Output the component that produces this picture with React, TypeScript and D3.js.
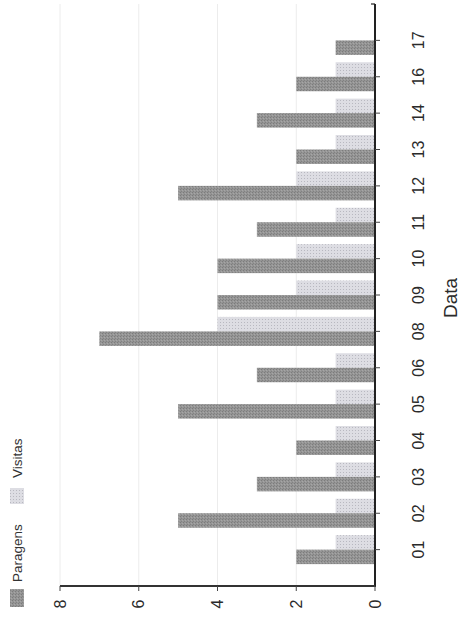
import React from "react";
import * as d3 from "d3";

const categories = ["01", "02", "03", "04", "05", "06", "08", "09", "10", "11", "12", "13", "14", "16", "17"];
const paragens = [2, 5, 3, 2, 5, 3, 7, 4, 4, 3, 5, 2, 3, 2, 1];
const visitas = [1, 1, 1, 1, 1, 1, 4, 2, 2, 1, 2, 1, 1, 1, 0];
const valueTicks = [0, 2, 4, 6, 8];
const seriesNames = ["Paragens", "Visitas"];

const W = 459;
const H = 618;
const FONT = "Liberation Sans, Arial, sans-serif";

export default function App() {
  const x = d3.scaleLinear().domain([0, 8]).range([375, 60]);
  const y = d3.scalePoint<string>().domain(categories).range([586, 4]).padding(1);
  const barH = 14.5;
  const axisY = 586;
  const axisX = 375;

  return (
    <svg
      width={W}
      height={H}
      style={{ position: "absolute", left: 0, top: 0, background: "#fff" }}
      fontFamily={FONT}
    >
      <defs>
        <pattern id="pPar" width="3" height="3" patternUnits="userSpaceOnUse">
          <rect width="3" height="3" fill="#959595" />
          <rect x="0" y="0" width="1" height="1" fill="#7c7c7c" />
          <rect x="2" y="1" width="1" height="1" fill="#a6a6a6" />
          <rect x="1" y="2" width="1" height="1" fill="#828282" />
        </pattern>
        <pattern id="pVis" width="3" height="3" patternUnits="userSpaceOnUse">
          <rect width="3" height="3" fill="#dddde3" />
          <rect x="1" y="1" width="1" height="1" fill="#b8b8c0" />
        </pattern>
      </defs>
      <rect width={W} height={H} fill="#fff" />

      {valueTicks.filter((v) => v > 0).map((v) => (
        <line key={"g" + v} x1={x(v)} x2={x(v)} y1={4} y2={axisY} stroke="#ececec" strokeWidth={1} />
      ))}

      {categories.map((c, i) => {
        const cy = y(c) as number;
        return (
          <g key={c}>
            {visitas[i] > 0 && (
              <rect x={x(visitas[i])} y={cy - barH} width={x(0) - x(visitas[i])} height={barH} fill="url(#pVis)" />
            )}
            {paragens[i] > 0 && (
              <rect x={x(paragens[i])} y={cy} width={x(0) - x(paragens[i])} height={barH} fill="url(#pPar)" />
            )}
          </g>
        );
      })}

      <line x1={axisX} x2={axisX} y1={4} y2={axisY + 1} stroke="#222" strokeWidth={2} />
      <line x1={60} x2={axisX} y1={axisY} y2={axisY} stroke="#333" strokeWidth={2} />
      <line x1={axisX - 4} x2={axisX} y1={4} y2={4} stroke="#222" strokeWidth={1.2} />
      {categories.map((c) => (
        <line key={"t" + c} x1={axisX} x2={axisX + 5} y1={y(c)} y2={y(c)} stroke="#444" strokeWidth={1} />
      ))}
      {valueTicks.map((v) => (
        <line key={"vt" + v} x1={x(v)} x2={x(v)} y1={axisY} y2={axisY + 5} stroke="#444" strokeWidth={1} />
      ))}

      {valueTicks.map((v) => (
        <text
          key={"vl" + v}
          transform={`translate(${x(v)},${604}) rotate(-90)`}
          textAnchor="middle"
          dominantBaseline="central"
          fontSize={16}
          fontFamily={FONT}
          fill="#2a2a2a"
        >
          {v}
        </text>
      ))}

      {categories.map((c) => (
        <text
          key={"cl" + c}
          transform={`translate(${418},${y(c)}) rotate(-90)`}
          textAnchor="middle"
          dominantBaseline="central"
          fontSize={16}
          fontFamily={FONT}
          fill="#2a2a2a"
        >
          {c}
        </text>
      ))}

      <text
        transform={`translate(${450},${298}) rotate(-90)`}
        textAnchor="middle"
        dominantBaseline="central"
        fontSize={19}
        fontFamily={FONT}
        fill="#2a2a2a"
      >
        Data
      </text>

      <rect x={10} y={589} width={14} height={18} fill="url(#pPar)" />
      <text
        transform={`translate(${17},${582}) rotate(-90)`}
        textAnchor="start"
        dominantBaseline="central"
        fontSize={13.5}
        fontFamily={FONT}
        fill="#333"
      >
        {seriesNames[0]}
      </text>
      <rect x={10} y={488} width={14} height={16} fill="url(#pVis)" />
      <text
        transform={`translate(${17},${478}) rotate(-90)`}
        textAnchor="start"
        dominantBaseline="central"
        fontSize={13.5}
        fontFamily={FONT}
        fill="#333"
      >
        {seriesNames[1]}
      </text>
    </svg>
  );
}
